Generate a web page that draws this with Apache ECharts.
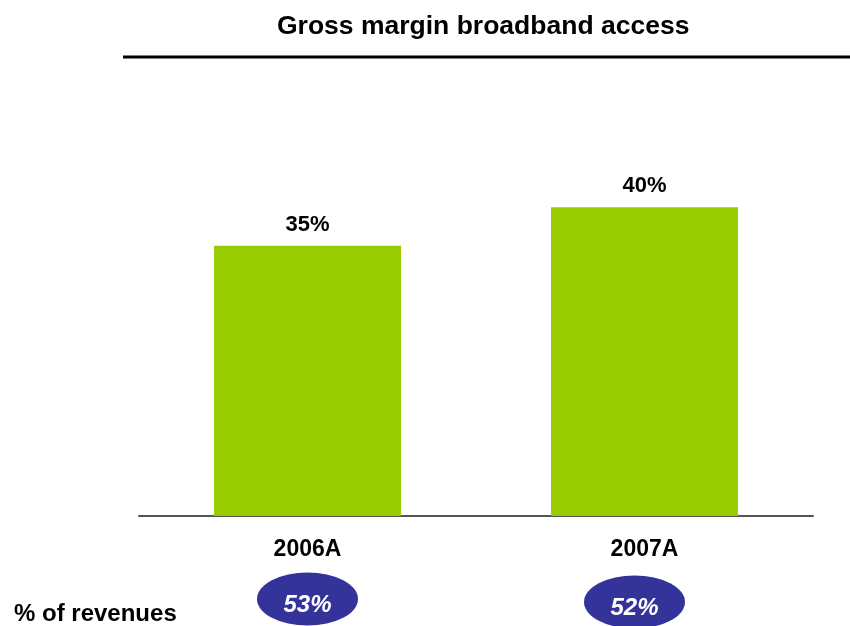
<!DOCTYPE html>
<html>
<head>
<meta charset="utf-8">
<style>
  html, body { margin: 0; padding: 0; background: #ffffff; }
  #chart { width: 850px; height: 626px; }
</style>
<script src="https://cdn.jsdelivr.net/npm/echarts@6/dist/echarts.min.js"></script>
</head>
<body>
<div id="chart"></div>
<script>
// Gross margin on broadband access, by year
const years = ['2006A', '2007A'];
const grossMargin = [35, 40];      // % gross margin
const revenueShare = [53, 52];     // % of revenues

const FONT = "'Liberation Sans', Arial, sans-serif";

const chart = echarts.init(document.getElementById('chart'), null, { renderer: 'canvas' });

chart.setOption({
  backgroundColor: '#ffffff',
  animation: false,
  title: {
    text: 'Gross margin broadband access',
    left: 272,
    top: 8,
    textStyle: { fontFamily: FONT, fontSize: 26.5, fontWeight: 'bold', color: '#000000' }
  },
  grid: [
    { left: 139, right: 37, top: 130, bottom: 110 },
    { left: 139, right: 37, top: 580, height: 38 }
  ],
  xAxis: [
    {
      type: 'category',
      gridIndex: 0,
      data: years,
      axisTick: { show: false },
      axisLine: { lineStyle: { color: '#555555', width: 2 } },
      axisLabel: {
        margin: 22,
        fontFamily: FONT, fontSize: 23, fontWeight: 'bold', color: '#000000'
      }
    },
    {
      type: 'category',
      gridIndex: 1,
      data: years,
      show: false
    }
  ],
  yAxis: [
    { type: 'value', gridIndex: 0, min: 0, max: 50, show: false },
    { type: 'value', gridIndex: 1, min: 0, max: 1, show: false }
  ],
  graphic: [
    {
      type: 'line',
      shape: { x1: 123, y1: 57, x2: 850, y2: 57 },
      style: { stroke: '#000000', lineWidth: 3 }
    },
    {
      type: 'text',
      left: 14,
      top: 602,
      style: {
        text: '% of revenues',
        font: "bold 24px 'Liberation Sans', Arial, sans-serif",
        fill: '#000000'
      }
    }
  ],
  series: [
    {
      type: 'bar',
      xAxisIndex: 0,
      yAxisIndex: 0,
      data: grossMargin,
      barWidth: '55.5%',
      itemStyle: { color: '#99CC00' },
      label: {
        show: true,
        position: 'top',
        distance: 10,
        formatter: '{c}%',
        fontFamily: FONT, fontSize: 22, fontWeight: 'bold', color: '#000000'
      }
    },
    {
      type: 'scatter',
      xAxisIndex: 1,
      yAxisIndex: 1,
      symbol: 'circle',
      symbolSize: [101, 53],
      data: revenueShare.map((v, i) => ({
        value: [i, 0.5, v],
        symbolOffset: i === 1 ? [-10, 3] : [0, 0]
      })),
      itemStyle: { color: '#333399', opacity: 1 },
      label: {
        show: true,
        position: 'inside',
        offset: [0, 6],
        formatter: p => p.value[2] + '%',
        fontFamily: FONT, fontSize: 24, fontWeight: 'bold', fontStyle: 'italic',
        color: '#ffffff'
      }
    }
  ]
});
</script>
</body>
</html>
